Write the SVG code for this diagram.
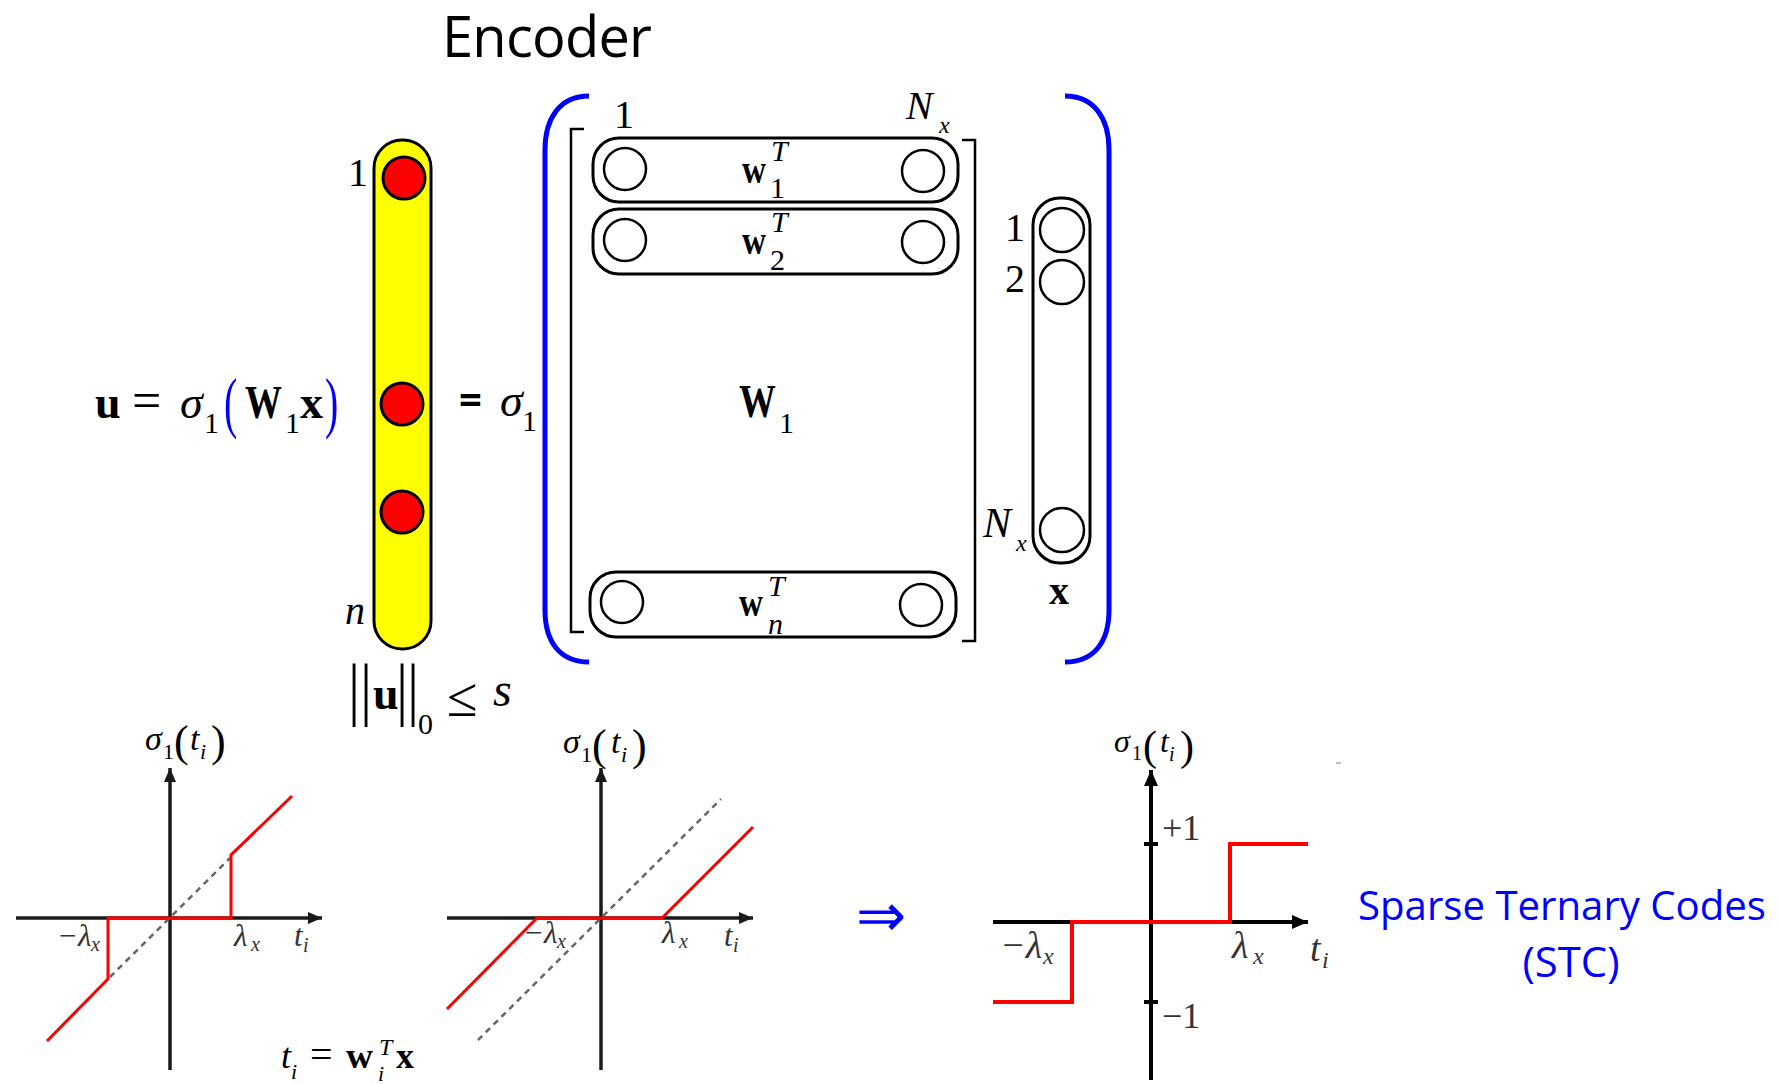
<svg xmlns="http://www.w3.org/2000/svg" width="1779" height="1084" viewBox="0 0 1779 1084">
<style>
.m{font-family:"Liberation Serif","DejaVu Serif",serif;fill:#000}
.i{font-style:italic}
.b{font-weight:bold}
.g{fill:#333}
.blue{fill:#0000ff}
.sans{font-family:"Open Sans","Noto Sans","Liberation Sans",sans-serif}
.pill{fill:none;stroke:#000;stroke-width:3}
.oc{fill:#fff;stroke:#000;stroke-width:2.5}
.rc{fill:#ff0000;stroke:#000;stroke-width:3}
.brk{fill:none;stroke:#000;stroke-width:2.5}
.par{fill:none;stroke:#0000ff;stroke-width:5}
.ax{stroke:#1a1a1a;stroke-width:3.5;fill:none}
.ax2{stroke:#000;stroke-width:4;fill:none}
.red{stroke:#ff0000;stroke-width:3;fill:none}
.red2{stroke:#ff0000;stroke-width:4;fill:none}
.dash{stroke:#666;stroke-width:2.5;stroke-dasharray:6 5;fill:none}
</style>
<defs>
<marker id="ah" viewBox="0 0 14 12" refX="14" refY="6" markerWidth="14" markerHeight="12" orient="auto" markerUnits="userSpaceOnUse"><path d="M0,0 L14,6 L0,12 z" fill="#1a1a1a"/></marker>
<marker id="ah2" viewBox="0 0 16 14" refX="16" refY="7" markerWidth="16" markerHeight="14" orient="auto" markerUnits="userSpaceOnUse"><path d="M0,0 L16,7 L0,14 z" fill="#000"/></marker>
</defs>
<rect width="1779" height="1084" fill="#fff"/>

<g id="title"><text class="sans" x="442" y="57" font-size="56" textLength="210" fill="#000">Encoder</text></g>

<g id="formula-u">
<text class="m b" x="95" y="418" font-size="46">u</text>
<text class="m" x="132" y="418" font-size="52">=</text>
<text class="m i" x="180" y="418" font-size="46">σ</text>
<text class="m" x="204" y="433" font-size="30">1</text>
<text class="m blue" transform="translate(224,425) scale(1,1.7)" font-size="40">(</text>
<text class="m b" transform="translate(245,418) scale(0.8,1)" font-size="46">W</text>
<text class="m" x="285" y="433" font-size="30">1</text>
<text class="m b" x="300" y="418" font-size="46">x</text>
<text class="m blue" transform="translate(325,425) scale(1,1.7)" font-size="40">)</text>
</g>

<g id="u-vector">
<rect x="374" y="140" width="57" height="509" rx="28" fill="#ffff00" stroke="#000" stroke-width="3"/>
<circle class="rc" cx="404" cy="178" r="21"/>
<circle class="rc" cx="402" cy="404" r="21"/>
<circle class="rc" cx="402" cy="512" r="21"/>
<text class="m" x="348" y="186" font-size="40">1</text>
<text class="m i" x="345" y="624" font-size="40">n</text>
</g>

<g id="norm">
<text class="m" transform="translate(354,712) scale(1,1.2)" font-size="58" text-anchor="middle">|</text>
<text class="m" transform="translate(366,712) scale(1,1.2)" font-size="58" text-anchor="middle">|</text>
<text class="m b" x="373" y="709" font-size="46">u</text>
<text class="m" transform="translate(402,712) scale(1,1.2)" font-size="58" text-anchor="middle">|</text>
<text class="m" transform="translate(413,712) scale(1,1.2)" font-size="58" text-anchor="middle">|</text>
<text class="m" x="418" y="734" font-size="30">0</text>
<text class="m" x="447" y="716" font-size="56">≤</text>
<text class="m i" x="493" y="706" font-size="48">s</text>
</g>

<g id="eq-sigma">
<text class="sans" x="459" y="414" font-size="40" font-weight="bold" fill="#000">=</text>
<text class="m i" x="500" y="416" font-size="46">σ</text>
<text class="m" x="522" y="431" font-size="30">1</text>
</g>

<g id="paren-left"><path class="par" d="M589,96 C560,96 545,118 545,150 L545,610 C545,642 560,662 589,662"/></g>
<g id="paren-right"><path class="par" d="M1065,96 C1094,96 1109,118 1109,150 L1109,610 C1109,642 1094,662 1065,662"/></g>

<g id="matrix-W1">
<path class="brk" d="M584,129 L571,129 L571,632 L584,632"/>
<path class="brk" d="M962,140 L975,140 L975,641 L962,641"/>
<text class="m" x="614" y="128" font-size="40">1</text>
<text class="m i" x="906" y="119" font-size="40">N</text>
<text class="m i" x="939" y="133" font-size="24">x</text>
<text class="m b" transform="translate(739,417) scale(0.8,1)" font-size="46">W</text>
<text class="m" x="779" y="433" font-size="30">1</text>
</g>

<g id="row-w1">
<rect class="pill" x="593" y="138" width="365" height="64" rx="26"/>
<circle class="oc" cx="625" cy="169" r="21"/>
<circle class="oc" cx="923" cy="171" r="21"/>
<text class="m b" x="742" y="183" font-size="40" textLength="24" lengthAdjust="spacingAndGlyphs">w</text>
<text class="m i" x="771" y="161" font-size="30">T</text>
<text class="m" x="770" y="198" font-size="30">1</text>
</g>

<g id="row-w2">
<rect class="pill" x="593" y="209" width="365" height="65" rx="26"/>
<circle class="oc" cx="625" cy="240" r="21"/>
<circle class="oc" cx="923" cy="242" r="21"/>
<text class="m b" x="742" y="254" font-size="40" textLength="24" lengthAdjust="spacingAndGlyphs">w</text>
<text class="m i" x="771" y="232" font-size="30">T</text>
<text class="m" x="770" y="270" font-size="30">2</text>
</g>

<g id="row-wn">
<rect class="pill" x="590" y="572" width="366" height="65" rx="26"/>
<circle class="oc" cx="622" cy="602" r="21"/>
<circle class="oc" cx="921" cy="605" r="21"/>
<text class="m b" x="739" y="616" font-size="40" textLength="24" lengthAdjust="spacingAndGlyphs">w</text>
<text class="m i" x="768" y="596" font-size="30">T</text>
<text class="m i" x="768" y="634" font-size="30">n</text>
</g>

<g id="x-vector">
<rect class="pill" x="1033" y="198" width="57" height="365" rx="27"/>
<circle class="oc" cx="1062" cy="230" r="22"/>
<circle class="oc" cx="1062" cy="282" r="22"/>
<circle class="oc" cx="1062" cy="530" r="22"/>
<text class="m" x="1005" y="241" font-size="40">1</text>
<text class="m" x="1005" y="292" font-size="40">2</text>
<text class="m i" x="983" y="537" font-size="42">N</text>
<text class="m i" x="1016" y="551" font-size="24">x</text>
<text class="m b" x="1049" y="604" font-size="40">x</text>
</g>

<g id="graph-hard">
<line class="ax" x1="170" y1="1070" x2="170" y2="768" marker-end="url(#ah)"/>
<line class="ax" x1="16" y1="918" x2="322" y2="918" marker-end="url(#ah)"/>
<line class="dash" x1="110" y1="977" x2="230" y2="858"/>
<polyline class="red" points="47,1041 108,979 108,918 231,918 231,855 292,796"/>
<text class="m i" x="145" y="750" font-size="34">σ</text>
<text class="m" x="163" y="759" font-size="22">1</text>
<text class="m" x="174" y="756" font-size="44">(</text>
<text class="m i" x="190" y="750" font-size="34">t</text>
<text class="m i" x="200" y="759" font-size="22">i</text>
<text class="m" x="211" y="756" font-size="44">)</text>
<text class="m i g" x="57" y="946" font-size="31">−λ</text>
<text class="m i g" x="91" y="951" font-size="20">x</text>
<text class="m i g" x="234" y="946" font-size="31">λ</text>
<text class="m i g" x="251" y="951" font-size="20">x</text>
<text class="m i g" x="294" y="946" font-size="31">t</text>
<text class="m i g" x="303" y="952" font-size="20">i</text>
</g>

<g id="formula-t">
<text class="m i" x="281" y="1068" font-size="36">t</text>
<text class="m i" x="291" y="1079" font-size="22">i</text>
<text class="m" x="310" y="1068" font-size="40">=</text>
<text class="m b" x="346" y="1068" font-size="36" textLength="27" lengthAdjust="spacingAndGlyphs">w</text>
<text class="m i" x="379" y="1055" font-size="24">T</text>
<text class="m i" x="378" y="1081" font-size="22">i</text>
<text class="m b" x="396" y="1068" font-size="36">x</text>
</g>

<g id="graph-soft">
<line class="ax" x1="601" y1="1070" x2="601" y2="768" marker-end="url(#ah)"/>
<line class="ax" x1="447" y1="918" x2="753" y2="918" marker-end="url(#ah)"/>
<line class="dash" x1="478" y1="1040" x2="721" y2="799"/>
<polyline class="red" points="447,1009 537,918 662,918 753,827"/>
<text class="m i" x="563" y="753" font-size="34">σ</text>
<text class="m" x="581" y="762" font-size="22">1</text>
<text class="m" x="592" y="760" font-size="44">(</text>
<text class="m i" x="611" y="753" font-size="34">t</text>
<text class="m i" x="621" y="762" font-size="22">i</text>
<text class="m" x="632" y="760" font-size="44">)</text>
<text class="m i g" x="523" y="943" font-size="31">−λ</text>
<text class="m i g" x="557" y="948" font-size="20">x</text>
<text class="m i g" x="662" y="943" font-size="31">λ</text>
<text class="m i g" x="679" y="948" font-size="20">x</text>
<text class="m i g" x="724" y="946" font-size="31">t</text>
<text class="m i g" x="733" y="952" font-size="20">i</text>
</g>

<g id="implies"><text x="856" y="936" font-size="60" font-weight="200" font-family="DejaVu Sans, sans-serif" fill="#0000ff">⇒</text></g>

<g id="graph-ternary">
<line class="ax2" x1="1151" y1="1080" x2="1151" y2="770" marker-end="url(#ah2)"/>
<line class="ax2" x1="993" y1="922" x2="1308" y2="922" marker-end="url(#ah2)"/>
<line class="ax2" x1="1144" y1="844" x2="1158" y2="844" stroke-width="3"/>
<line class="ax2" x1="1144" y1="1002" x2="1158" y2="1002" stroke-width="3"/>
<polyline class="red2" points="993,1002 1072,1002 1072,922 1230,922 1230,844 1308,844"/>
<text class="m i" x="1114" y="752" font-size="32">σ</text>
<text class="m" x="1132" y="760" font-size="20">1</text>
<text class="m" x="1143" y="760" font-size="42">(</text>
<text class="m i" x="1160" y="752" font-size="32">t</text>
<text class="m i" x="1169" y="761" font-size="20">i</text>
<text class="m" x="1180" y="760" font-size="42">)</text>
<text class="m g" x="1162" y="840" font-size="36">+1</text>
<text class="m g" x="1162" y="1028" font-size="36">−1</text>
<text class="m i g" x="1000" y="958" font-size="38">−λ</text>
<text class="m i g" x="1043" y="964" font-size="24">x</text>
<text class="m i g" x="1232" y="958" font-size="38">λ</text>
<text class="m i g" x="1253" y="964" font-size="24">x</text>
<text class="m i g" x="1310" y="961" font-size="38">t</text>
<text class="m i g" x="1322" y="968" font-size="24">i</text>
<line x1="1336" y1="763" x2="1341" y2="763" stroke="#aaa" stroke-width="1.5"/>
</g>

<g id="stc-label">
<text class="sans blue" x="1358" y="920" font-size="40" textLength="408" lengthAdjust="spacingAndGlyphs">Sparse Ternary Codes</text>
<text class="sans blue" x="1571" y="977" font-size="42" text-anchor="middle" textLength="97" lengthAdjust="spacingAndGlyphs">(STC)</text>
</g>

<g id="connectors"></g>
</svg>
